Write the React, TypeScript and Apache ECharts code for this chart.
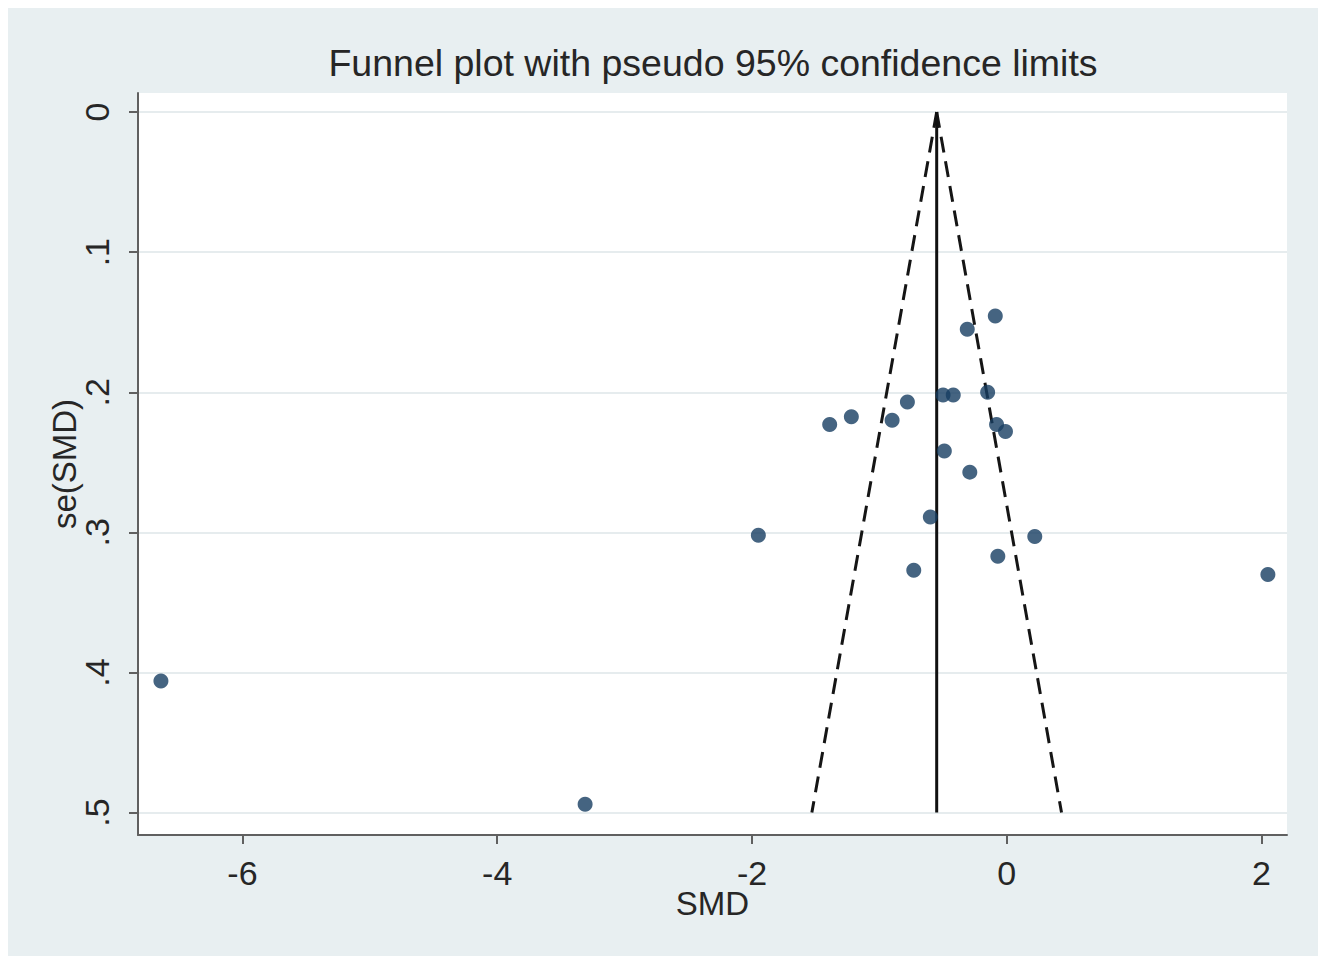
import React, { useEffect, useRef } from "react";
import * as echarts from "echarts";

const titleText = "Funnel plot with pseudo 95% confidence limits";
const xAxisName = "SMD";
const yAxisName = "se(SMD)";
const xTicks = [-6, -4, -2, 0, 2];
const xTickLabels = ["-6", "-4", "-2", "0", "2"];
const yTicks = [0, 0.1, 0.2, 0.3, 0.4, 0.5];
const yTickLabels = ["0", ".1", ".2", ".3", ".4", ".5"];

// study estimates (SMD) and their standard errors
const smd = [
  -6.64, -3.31, -1.95, -1.39, -1.22, -0.9, -0.78, -0.73, -0.6, -0.5, -0.42,
  -0.49, -0.31, -0.29, -0.09, -0.15, -0.08, -0.01, -0.07, 0.22, 2.05,
];
const seSmd = [
  0.406, 0.494, 0.302, 0.223, 0.2175, 0.22, 0.207, 0.327, 0.289, 0.202, 0.202,
  0.242, 0.155, 0.257, 0.1455, 0.2, 0.223, 0.228, 0.317, 0.303, 0.33,
];

// pooled estimate line and pseudo 95% limits (endpoints)
const pooledLine = [
  [-0.55, 0],
  [-0.55, 0.5],
];
const lowerLimit = [
  [-0.55, 0],
  [-1.53, 0.5],
];
const upperLimit = [
  [-0.55, 0],
  [0.43, 0.5],
];

const FONT = "'Liberation Sans', Arial, sans-serif";

export default function App() {
  const ref = useRef<HTMLDivElement>(null);

  useEffect(() => {
    if (!ref.current) return;
    const chart = echarts.init(ref.current, undefined, { renderer: "svg" });
    const points = smd.map((v, i) => [v, seSmd[i]]);
    const labelFor = (val: number, ticks: number[], labels: string[]) => {
      const i = ticks.findIndex((t) => Math.abs(t - val) < 1e-6);
      return i >= 0 ? labels[i] : "";
    };

    chart.setOption({
      animation: false,
      backgroundColor: "#E8EFF1",
      graphic: [
        {
          type: "text",
          x: 705,
          y: 55,
          style: {
            text: titleText,
            fill: "#262626",
            font: `37.5px ${FONT}`,
            align: "center",
            verticalAlign: "middle",
          },
        },
      ],
      grid: {
        left: 130,
        top: 85,
        right: 31,
        bottom: 121,
        show: true,
        backgroundColor: "#ffffff",
        borderWidth: 0,
      },
      xAxis: {
        type: "value",
        min: -6.82,
        max: 2.2,
        name: xAxisName,
        nameLocation: "middle",
        nameGap: 52,
        nameMoveOverlap: false,
        nameTextStyle: { fontFamily: FONT, fontSize: 33, color: "#262626" },
        axisLine: { show: true, onZero: false, lineStyle: { color: "#606060", width: 2 } },
        axisTick: {
          show: true,
          length: 9,
          customValues: xTicks,
          lineStyle: { color: "#606060", width: 2 },
        },
        axisLabel: {
          customValues: xTicks,
          margin: 21,
          fontFamily: FONT,
          fontSize: 34,
          color: "#262626",
          formatter: (v: number) => labelFor(v, xTicks, xTickLabels),
        },
        splitLine: { show: false },
      },
      yAxis: {
        type: "value",
        inverse: true,
        min: -0.0136,
        max: 0.516,
        name: yAxisName,
        nameLocation: "middle",
        nameRotate: 90,
        nameGap: 57,
        nameMoveOverlap: false,
        nameTextStyle: { fontFamily: FONT, fontSize: 33, color: "#262626" },
        axisLine: { show: true, onZero: false, lineStyle: { color: "#606060", width: 2 } },
        axisTick: {
          show: true,
          length: 9,
          customValues: yTicks,
          lineStyle: { color: "#606060", width: 2 },
        },
        axisLabel: {
          customValues: yTicks,
          rotate: 90,
          margin: 24,
          fontFamily: FONT,
          fontSize: 34,
          color: "#262626",
          formatter: (v: number) => labelFor(v, yTicks, yTickLabels),
        },
        splitLine: { show: true, lineStyle: { color: "#E6ECEE", width: 2 } },
      },
      series: [
        {
          type: "line",
          data: lowerLimit,
          symbol: "none",
          lineStyle: { color: "#151515", width: 3, type: [16, 9] },
          z: 2,
        },
        {
          type: "line",
          data: upperLimit,
          symbol: "none",
          lineStyle: { color: "#151515", width: 3, type: [16, 9] },
          z: 2,
        },
        {
          type: "line",
          data: pooledLine,
          symbol: "none",
          lineStyle: { color: "#111111", width: 3 },
          z: 2,
        },
        {
          type: "scatter",
          data: points,
          symbol: "circle",
          symbolSize: 15,
          itemStyle: { color: "#173d61" },
          z: 3,
        },
      ],
    });

    return () => chart.dispose();
  }, []);

  return (
    <div
      ref={ref}
      style={{ position: "fixed", left: 8, top: 8, width: 1310, height: 948 }}
    />
  );
}
